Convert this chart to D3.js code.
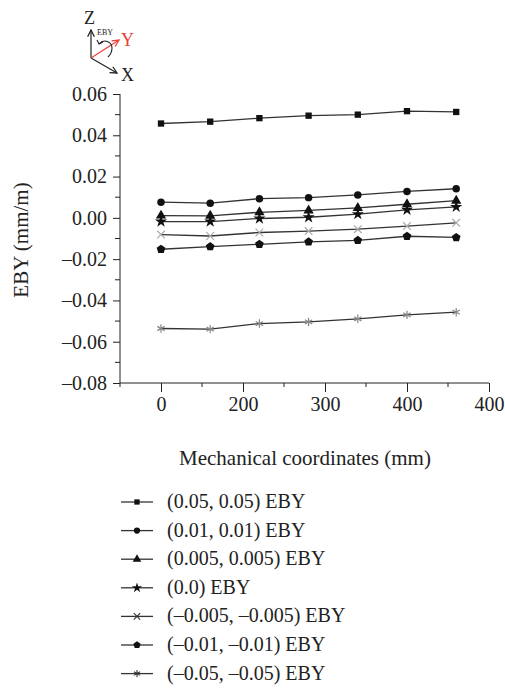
<!DOCTYPE html>
<html>
<head>
<meta charset="utf-8">
<script src="https://cdn.jsdelivr.net/npm/d3@7"></script>
<style>
  body { margin: 0; background: #fff; }
</style>
</head>
<body>
<script>
// mechanical coordinates of the measuring points (mm)
const xs = [0, 60, 120, 180, 240, 300, 360]

const names = ["(0.05, 0.05) EBY", "(0.01, 0.01) EBY", "(0.005, 0.005) EBY", "(0.0) EBY",
  "(–0.005, –0.005) EBY", "(–0.01, –0.01) EBY", "(–0.05, –0.05) EBY"]

const s1 = [0.0457, 0.0466, 0.0483, 0.0495, 0.0500, 0.0517, 0.0513]
const s2 = [0.0076, 0.0071, 0.0093, 0.0098, 0.0111, 0.0128, 0.0141]
const s3 = [0.0011, 0.0010, 0.0027, 0.0036, 0.0048, 0.0066, 0.0083]
const s4 = [-0.0018, -0.0018, -0.0003, 0.0003, 0.0018, 0.0039, 0.0053]
const s5 = [-0.0081, -0.0088, -0.0071, -0.0064, -0.0055, -0.0040, -0.0024]
const s6 = [-0.0152, -0.0139, -0.0128, -0.0116, -0.0109, -0.0089, -0.0095]
const s7 = [-0.0536, -0.0539, -0.0512, -0.0504, -0.0489, -0.0470, -0.0457]
const series = [s1, s2, s3, s4, s5, s6, s7]

const xTicks = [0, 100, 200, 300, 400]
const xTickLabels = ["0", "200", "300", "400", "400"]
const yTicks = [-0.08, -0.06, -0.04, -0.02, 0, 0.02, 0.04, 0.06]

const width = 505
const height = 688
const font = "'Liberation Serif', 'Times New Roman', 'DejaVu Serif', serif"

const pentagon = {
  draw(ctx, size) {
    const r = Math.sqrt(size / 2.38)
    for (let i = 0; i < 5; i++) {
      const a = -Math.PI / 2 + i * 2 * Math.PI / 5
      if (i == 0) ctx.moveTo(r * Math.cos(a), r * Math.sin(a))
      else ctx.lineTo(r * Math.cos(a), r * Math.sin(a))
    }
    ctx.closePath()
  }
}

// marker style per series
const markers = [
  {type: d3.symbolSquare, size: 40, fill: "#111", stroke: "none"},
  {type: d3.symbolCircle, size: 44, fill: "#111", stroke: "none"},
  {type: d3.symbolTriangle, size: 46, fill: "#111", stroke: "none"},
  {type: d3.symbolStar, size: 46, fill: "#111", stroke: "none"},
  {type: d3.symbolTimes, size: 40, fill: "none", stroke: "#aaa"},
  {type: pentagon, size: 50, fill: "#111", stroke: "none"},
  {type: d3.symbolAsterisk, size: 50, fill: "none", stroke: "#888"}
]

const svg = d3.select("body").append("svg")
  .attr("width", width)
  .attr("height", height)

const x = d3.scaleLinear().domain([-50, 400]).range([120, 489])
const y = d3.scaleLinear().domain([-0.08, 0.06]).range([383, 94])

// y axis
const yAxis = d3.axisLeft(y).tickValues(yTicks).tickSize(7).tickPadding(6)
  .tickFormat(d => d3.format(".2f")(d).replace("−", "–"))
const yg = svg.append("g").attr("transform", "translate(120,0)").call(yAxis)
yg.select(".domain").attr("d", "M0," + y(0.06) + "V" + y(-0.08))
yg.selectAll(".minor").data(d3.range(-0.07, 0.06, 0.02)).enter().append("line")
  .attr("x1", 0).attr("x2", -5).attr("y1", d => y(d)).attr("y2", d => y(d))
  .attr("stroke", "#222")

// x axis
const xAxis = d3.axisBottom(x).tickValues(xTicks).tickSize(9).tickPadding(5)
  .tickFormat((d, i) => xTickLabels[i])
const xg = svg.append("g").attr("transform", "translate(0,383)").call(xAxis)
xg.select(".domain").attr("d", "M120,0H489")
xg.selectAll(".minor").data([-50, 50, 150, 250, 350]).enter().append("line")
  .attr("x1", d => x(d)).attr("x2", d => x(d)).attr("y1", 0).attr("y2", 4)
  .attr("stroke", "#222")

yg.attr("font-family", font)
xg.attr("font-family", font)
svg.selectAll(".tick text").style("font-size", "20px").style("font-family", font).attr("fill", "#222")
svg.selectAll(".domain, .tick line").attr("stroke", "#222")

svg.append("text")
  .attr("transform", "translate(28,240) rotate(-90)")
  .attr("text-anchor", "middle")
  .style("font-family", font)
  .style("font-size", "21px")
  .attr("fill", "#222")
  .text("EBY (mm/m)")

svg.append("text")
  .attr("x", 305).attr("y", 465)
  .attr("text-anchor", "middle")
  .style("font-family", font)
  .style("font-size", "21px")
  .attr("fill", "#222")
  .text("Mechanical coordinates (mm)")

// lines and markers
const line = d3.line().x((d, i) => x(xs[i])).y(d => y(d))

series.forEach((s, k) => {
  svg.append("path")
    .attr("d", line(s))
    .attr("fill", "none")
    .attr("stroke", "#333")
    .attr("stroke-width", 1.3)
  const m = markers[k]
  svg.selectAll(".m" + k).data(s).enter().append("path")
    .attr("transform", (d, i) => "translate(" + x(xs[i]) + "," + y(d) + ")")
    .attr("d", d3.symbol().type(m.type).size(m.size))
    .attr("fill", m.fill)
    .attr("stroke", m.stroke)
    .attr("stroke-width", 1.2)
})

// legend
const lg = svg.append("g")
names.forEach((n, k) => {
  const ly = 502 + k * 28.6
  lg.append("line").attr("x1", 121).attr("x2", 153).attr("y1", ly).attr("y2", ly)
    .attr("stroke", "#333").attr("stroke-width", 1.3)
  const m = markers[k]
  lg.append("path")
    .attr("transform", "translate(137," + ly + ")")
    .attr("d", d3.symbol().type(m.type).size(m.size * 0.7))
    .attr("fill", m.fill == "none" ? "none" : "#111")
    .attr("stroke", m.stroke == "none" ? "none" : "#333")
    .attr("stroke-width", 1.1)
  lg.append("text").attr("x", 167).attr("y", ly + 6)
    .style("font-family", font)
    .style("font-size", "20px")
    .attr("fill", "#222")
    .text(n)
})

// axis orientation icon
const icon = svg.append("g")
svg.append("defs").html(
  '<marker id="ah" viewBox="0 0 10 10" refX="9" refY="5" markerWidth="7" markerHeight="7" orient="auto">' +
  '<path d="M1,1L9,5L1,9" fill="none" stroke="#222" stroke-width="1.5"/></marker>' +
  '<marker id="ahr" viewBox="0 0 10 10" refX="9" refY="5" markerWidth="7" markerHeight="7" orient="auto">' +
  '<path d="M1,1L9,5L1,9" fill="none" stroke="#e8403a" stroke-width="1.5"/></marker>')
icon.append("line").attr("x1", 91).attr("y1", 58).attr("x2", 91).attr("y2", 30)
  .attr("stroke", "#222").attr("stroke-width", 1.2).attr("marker-end", "url(#ah)")
icon.append("line").attr("x1", 91).attr("y1", 58).attr("x2", 117).attr("y2", 73)
  .attr("stroke", "#222").attr("stroke-width", 1.2).attr("marker-end", "url(#ah)")
icon.append("line").attr("x1", 91).attr("y1", 58).attr("x2", 119).attr("y2", 40)
  .attr("stroke", "#e8403a").attr("stroke-width", 1.2).attr("marker-end", "url(#ahr)")
icon.append("path").attr("d", "M99,44 C104,38 112,42 112,48 C112,52 110,55 108,57")
  .attr("fill", "none").attr("stroke", "#222").attr("stroke-width", 1.1)
icon.append("path").attr("d", "M97,40 L99,44 L103,42")
  .attr("fill", "none").attr("stroke", "#222").attr("stroke-width", 1.1)
icon.selectAll("text").data([
  {t: "Z", x: 84, y: 24, s: 18, c: "#222"},
  {t: "EBY", x: 97, y: 35, s: 8, c: "#222"},
  {t: "Y", x: 121, y: 46, s: 18, c: "#e8403a"},
  {t: "X", x: 121, y: 81, s: 18, c: "#222"}
]).enter().append("text")
  .attr("x", d => d.x).attr("y", d => d.y)
  .style("font-family", font)
  .style("font-size", d => d.s + "px")
  .attr("fill", d => d.c)
  .text(d => d.t)
</script>
</body>
</html>
